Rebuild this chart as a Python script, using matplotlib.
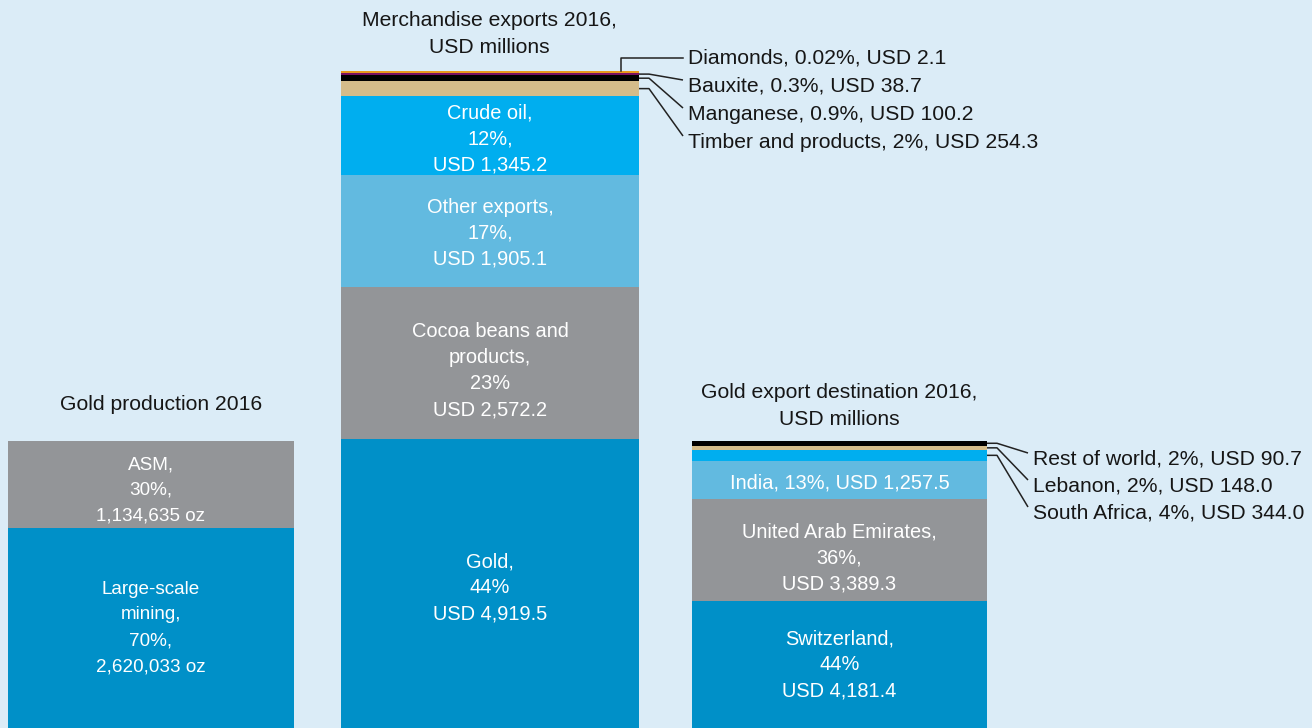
import matplotlib
matplotlib.use("Agg")
import matplotlib.pyplot as plt

# ---------------- data ----------------
prod_names = ["Large-scale mining", "ASM"]
prod_values = [2620033, 1134635]
prod_labels = ["Large-scale\nmining,\n70%,\n2,620,033 oz", "ASM,\n30%,\n1,134,635 oz"]

exp_names = ["Gold", "Cocoa beans and products", "Other exports", "Crude oil",
             "Timber and products", "Manganese", "Bauxite", "Diamonds"]
exp_values = [4919.5, 2572.2, 1905.1, 1345.2, 254.3, 100.2, 38.7, 2.1]
exp_labels = ["Gold,\n44%\nUSD 4,919.5", "Cocoa beans and\nproducts,\n23%\nUSD 2,572.2",
              "Other exports,\n17%,\nUSD 1,905.1", "Crude oil,\n12%,\nUSD 1,345.2",
              "Timber and products, 2%, USD 254.3", "Manganese, 0.9%, USD 100.2",
              "Bauxite, 0.3%, USD 38.7", "Diamonds, 0.02%, USD 2.1"]

dest_names = ["Switzerland", "United Arab Emirates", "India", "South Africa", "Lebanon", "Rest of world"]
dest_values = [4181.4, 3389.3, 1257.5, 344.0, 148.0, 90.7]
dest_labels = ["Switzerland,\n44%\nUSD 4,181.4", "United Arab Emirates,\n36%,\nUSD 3,389.3",
               "India, 13%, USD 1,257.5", "South Africa, 4%, USD 344.0",
               "Lebanon, 2%, USD 148.0", "Rest of world, 2%, USD 90.7"]

# ---------------- style ----------------
W, H = 1312, 728
BG = "#DBECF7"
C_GOLD = "#0090C8"
C_GRAY = "#939598"
C_LIGHT = "#62BAE0"
C_BRIGHT = "#00AEEF"
C_TAN = "#D4BC8A"
C_BLACK = "#000000"
C_PURPLE = "#7A1060"
C_ORANGE = "#E89A1C"
TXT = "#161616"

prod_colors = [C_GOLD, C_GRAY]
exp_colors = [C_GOLD, C_GRAY, C_LIGHT, C_BRIGHT, C_TAN, C_BLACK, C_PURPLE, C_ORANGE]
dest_colors = [C_GOLD, C_GRAY, C_LIGHT, C_BRIGHT, C_TAN, C_BLACK]

plt.rcParams["font.family"] = ["Liberation Sans", "DejaVu Sans"]
OUT_FS = 15.2
LS_TITLE = 1.47

fig = plt.figure(figsize=(W / 100, H / 100), dpi=100, facecolor=BG)

# bar pixel extents: (left, right, top)
layout = {
    "prod": (8, 294, 441),
    "exp": (341, 639, 71),
    "dest": (692, 987, 441),
}


def make_bar_axes(key, values, colors, min_frac=0.0):
    left, right, top = layout[key]
    ax = fig.add_axes([left / W, 0, (right - left) / W, 1])
    ax.set_axis_off()
    total = sum(values)
    disp = [max(v, total * min_frac) for v in values]
    dtotal = sum(disp)
    ax.set_xlim(0, 1)
    ax.set_ylim(0, dtotal * H / (H - top))
    bottoms = []
    b = 0
    for v, c in zip(disp, colors):
        ax.bar(0.5, v, width=1.0, bottom=b, color=c, linewidth=0)
        bottoms.append(b)
        b += v
    return ax, bottoms, disp


ax_p, bot_p, h_p = make_bar_axes("prod", prod_values, prod_colors)
ax_e, bot_e, h_e = make_bar_axes("exp", exp_values, exp_colors, min_frac=0.003)
ax_d, bot_d, h_d = make_bar_axes("dest", dest_values, dest_colors, min_frac=0.016)

# overlay in pixel coordinates
ov = fig.add_axes([0, 0, 1, 1], facecolor="none")
ov.set_xlim(0, W)
ov.set_ylim(H, 0)
ov.set_axis_off()


def to_pix(ax, x, y):
    dx, dy = ax.transData.transform((x, y))
    return dx, H - dy


def inbar(ax, bots, hs, labels, idxs, fs, ls, dy=None):
    for i in idxs:
        px, py = to_pix(ax, 0.5, bots[i] + hs[i] / 2)
        off = 0 if dy is None else dy.get(i, 0)
        ov.text(px, py + off, labels[i], color="white", fontsize=fs, ha="center",
                va="center", linespacing=ls, multialignment="center")


inbar(ax_p, bot_p, h_p, prod_labels, [0, 1], 13.6, 1.68, dy={0: 0, 1: 6})
inbar(ax_e, bot_e, h_e, exp_labels, [0, 1, 2, 3], 14.4, 1.47, dy={0: 4.5, 1: 8, 2: 2, 3: 3})
inbar(ax_d, bot_d, h_d, dest_labels, [0, 1, 2], 14.4, 1.47, dy={0: 0, 1: 8, 2: 3})

# titles
ov.text(161, 404, "Gold production 2016", fontsize=OUT_FS, ha="center", va="center", color=TXT)
ov.text(489, 34, "Merchandise exports 2016,\nUSD millions", fontsize=OUT_FS, ha="center",
        va="center", linespacing=LS_TITLE, color=TXT)
ov.text(839, 406, "Gold export destination 2016,\nUSD millions", fontsize=OUT_FS, ha="center",
        va="center", linespacing=LS_TITLE, color=TXT)


def callouts(ax, bots, hs, labels, items, label_x, right_px):
    for i, ly in items:
        ov.text(label_x, ly, labels[i], fontsize=OUT_FS, ha="left", va="center", color=TXT)
        _, py = to_pix(ax, 0.5, bots[i] + hs[i] / 2)
        ov.plot([right_px, right_px + 10, label_x - 5], [py, py, ly - 6],
                color="#222222", lw=1.1, solid_capstyle="butt")


# diamonds: vertical then horizontal
right_e = layout["exp"][1]
_, top_d = to_pix(ax_e, 0.5, bot_e[7] + h_e[7])
ov.plot([right_e - 18, right_e - 18, 683], [top_d, 58, 58], color="#222222", lw=1.1)
ov.text(688, 58, exp_labels[7], fontsize=OUT_FS, ha="left", va="center", color=TXT)

callouts(ax_e, bot_e, h_e, exp_labels, [(6, 86), (5, 114), (4, 142)], 688, right_e)
callouts(ax_d, bot_d, h_d, dest_labels, [(5, 459), (4, 486), (3, 513)], 1033, layout["dest"][1])

fig.savefig("out.png", dpi=100, facecolor=BG)
